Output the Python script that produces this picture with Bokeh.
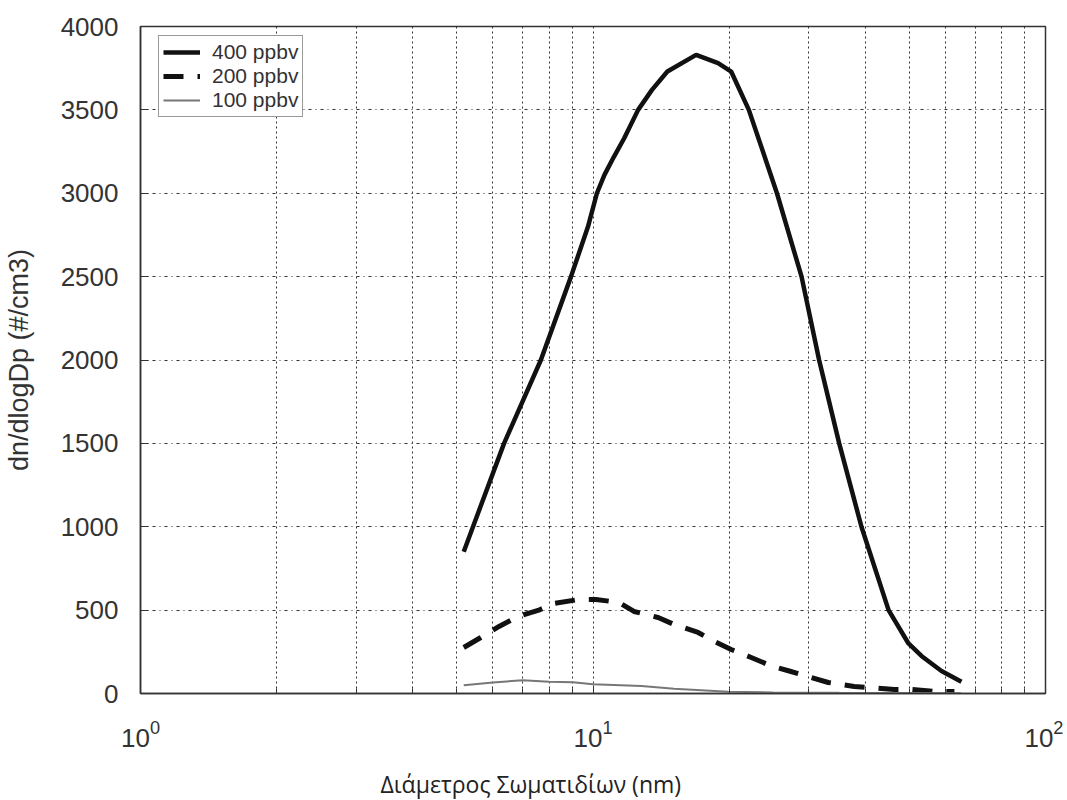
from bokeh.plotting import figure
from bokeh.models import (FixedTicker, SingleIntervalTicker, Title, Legend, LegendItem,
                          LogTickFormatter, Range1d)
from bokeh.embed import file_html
from bokeh.resources import INLINE

# ---- data ----
d400 = [5.18, 5.43, 6.36, 7.67, 8.94, 9.75, 10.20, 10.60, 11.13, 11.72, 12.58, 13.50, 14.60,
        16.90, 18.90, 20.20, 22.10, 25.50, 28.90, 31.60, 35.00, 39.20, 45.00, 49.80, 53.20,
        58.90, 65.20]
n400 = [850, 1000, 1500, 2000, 2500, 2800, 3000, 3110, 3220, 3330, 3500, 3620, 3730,
        3830, 3780, 3730, 3500, 3000, 2500, 2000, 1500, 1000, 500, 300, 225,
        135, 70]

d200 = [5.18, 5.65, 6.20, 6.83, 7.56, 8.20, 9.31, 10.15, 11.41, 12.32, 13.93, 15.11,
        17.07, 18.53, 20.20, 22.37, 24.77, 27.14, 30.36, 33.11, 37.79, 40.79, 46.35,
        50.52, 56.81, 62.91]
n200 = [276, 336, 402, 462, 498, 540, 564, 564, 546, 492, 456, 414,
        366, 312, 264, 216, 165, 135, 96, 66, 42, 36, 24, 24, 12, 12]

d100 = [5.18, 6.01, 7.00, 8.00, 9.03, 10.00, 12.80, 15.10, 19.90, 25.00, 35.00, 50.00, 65.00]
n100 = [50, 66, 80, 70, 68, 55, 45, 28, 10, 6, 4, 3, 2]

series_labels = ["400 ppbv", "200 ppbv", "100 ppbv"]
x_major = [1, 10, 100]
x_minor = [2, 3, 4, 5, 6, 7, 8, 9, 20, 30, 40, 50, 60, 70, 80, 90]
x_title = "Διάμετρος Σωματιδίων (nm)"
y_title = "dn/dlogDp (#/cm3)"

p = figure(x_axis_type="log", output_backend="svg", toolbar_location=None,
           frame_width=905, frame_height=667,
           min_border_left=139, min_border_right=18, min_border_top=26, min_border_bottom=108,
           x_range=Range1d(1, 100), y_range=Range1d(0, 4000))
p.background_fill_color = "white"
p.border_fill_color = "white"
p.outline_line_color = "#333333"
p.outline_line_width = 1.5

# axes
for ax in (p.xaxis, p.yaxis):
    ax.axis_line_color = "#333333"
    ax.axis_line_width = 1.5
    ax.major_tick_line_color = "#333333"
    ax.minor_tick_line_color = "#333333"
    ax.major_tick_in = 8
    ax.major_tick_out = 0
    ax.minor_tick_in = 5
    ax.minor_tick_out = 0
    ax.major_label_text_font = "Liberation Sans"
    ax.major_label_text_font_size = "26px"
    ax.major_label_text_color = "#333333"

p.xaxis.ticker = FixedTicker(ticks=x_major, minor_ticks=x_minor)
p.xaxis.formatter = LogTickFormatter()
p.xaxis.major_label_standoff = 26

p.yaxis.ticker = SingleIntervalTicker(interval=500, num_minor_ticks=0)
p.yaxis.major_label_standoff = 22
p.yaxis.axis_label = y_title
p.yaxis.axis_label_text_font = "Liberation Sans"
p.yaxis.axis_label_text_font_size = "27px"
p.yaxis.axis_label_text_font_style = "normal"
p.yaxis.axis_label_text_color = "#333333"
p.yaxis.axis_label_standoff = 24

# grids
p.xgrid.ticker = p.xaxis.ticker
p.xgrid.grid_line_color = "#333333"
p.xgrid.grid_line_dash = "2 3"
p.xgrid.grid_line_width = 1
p.xgrid.minor_grid_line_color = "#333333"
p.xgrid.minor_grid_line_dash = "2 3"
p.xgrid.minor_grid_line_width = 1
p.ygrid.grid_line_color = "#333333"
p.ygrid.grid_line_dash = "3 4 1 4"
p.ygrid.grid_line_width = 1

# lines
r400 = p.line(d400, n400, line_color="#111111", line_width=4.5)
r200 = p.line(d200, n200, line_color="#111111", line_width=5, line_dash="20 14")
r100 = p.line(d100, n100, line_color="#777777", line_width=2)

legend = Legend(items=[LegendItem(label=series_labels[0], renderers=[r400]),
                       LegendItem(label=series_labels[1], renderers=[r200]),
                       LegendItem(label=series_labels[2], renderers=[r100])],
                location=(18, 576))
legend.glyph_width = 37
legend.glyph_height = 20
legend.label_height = 20
legend.spacing = 0
legend.padding = 4
legend.margin = 0
legend.label_standoff = 12
legend.label_text_font = "Liberation Sans"
legend.label_text_font_size = "21px"
legend.label_text_color = "#333333"
legend.border_line_color = "#333333"
legend.border_line_width = 1.5
legend.background_fill_alpha = 1
p.add_layout(legend)

xtitle = Title(text=x_title, align="left", offset=240, standoff=32,
               text_font="Open Sans", text_font_size="23px", text_font_style="normal",
               text_color="#222222")
p.add_layout(xtitle, "below")

open("out.html", "w").write(file_html(p, INLINE))
